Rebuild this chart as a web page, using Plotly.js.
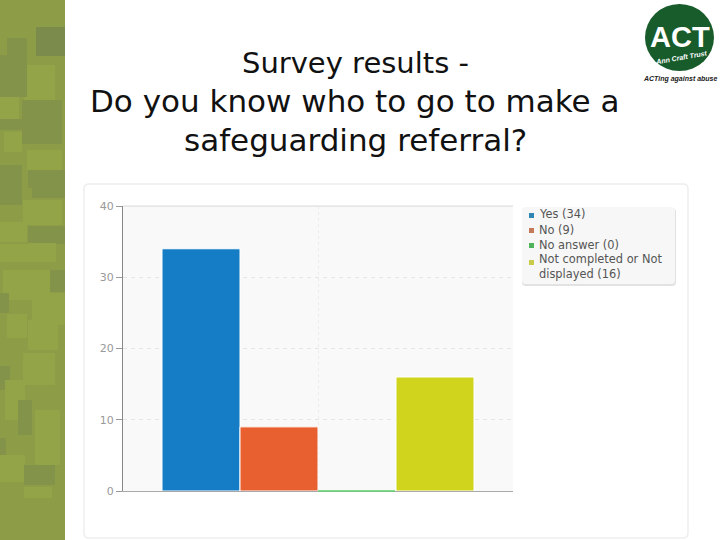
<!DOCTYPE html>
<html><head><meta charset="utf-8">
<script src="https://cdn.plot.ly/plotly-3.0.1.min.js"></script>
<style>html,body{margin:0;padding:0;background:#fff}</style></head>
<body><div id="chart" style="width:720px;height:540px"></div>
<script>
const categories = ["Yes","No","No answer","Not completed or Not<br>displayed"];
const counts = [34,9,0,16];
const barColors = ["#147dc6","#e85f30","#5fcf6a","#d0d41c"];
const legendMarkers = ["#2f86b5","#c47a5a","#4eb35a","#c9cc4a"];
const yTicks = [0,10,20,30,40];
const titleLines = ["Survey results -","Do you know who to go to make a","safeguarding referral?"];
const W=720,H=540;
const px=x=>x/W, py=y=>1-y/H;
const PL=123,PR=513,PT=206,PB=491;
function rect(x0,y0,x1,y1,fill){return {type:'rect',xref:'paper',yref:'paper',x0:px(x0),x1:px(x1),y0:py(y1),y1:py(y0),fillcolor:fill,line:{width:0},layer:'below'};}
function rounded(x0,y0,x1,y1,r,fill,stroke,sw){
  const P=(x,y)=>px(x)+','+py(y);
  const path='M'+P(x0+r,y0)+' L'+P(x1-r,y0)+' Q'+P(x1,y0)+' '+P(x1,y0+r)+' L'+P(x1,y1-r)+' Q'+P(x1,y1)+' '+P(x1-r,y1)+' L'+P(x0+r,y1)+' Q'+P(x0,y1)+' '+P(x0,y1-r)+' L'+P(x0,y0+r)+' Q'+P(x0,y0)+' '+P(x0+r,y0)+' Z';
  return {type:'path',xref:'paper',yref:'paper',path,fillcolor:fill,line:{color:stroke,width:sw},layer:'below'};
}
const base='#8d9c46', dark='#84934a', darker='#7b8b4b', light='#93a347';
const tiles=[
 [0,0,65,540,base],
 [36,27,65,56,darker],[24,65,55,100,light],[0,55,27,97,dark],[7,38,27,72,dark],
 [0,97,19,119,light],[22,100,62,144,dark],[0,119,25,130,dark],[4,132,22,152,light],
 [27,150,62,170,light],[28,170,65,188,dark],[32,188,65,198,dark],
 [23,200,62,225,light],[0,165,22,205,dark],[0,222,27,242,light],
 [28,226,65,244,dark],[28,243,56,262,light],[0,244,28,262,light],
 [3,270,50,300,light],[50,270,65,292,dark],[0,293,9,313,dark],[7,314,27,338,light],[32,293,65,325,light],
 [28,320,58,350,light],[23,353,55,385,light],[0,366,10,390,dark],[5,380,25,420,light],
 [18,400,32,435,dark],[35,410,60,465,light],[0,438,6,462,dark],[0,455,25,482,light],
 [24,465,55,485,dark],[24,487,52,498,light]
];
const shapes = tiles.map(t=>rect(t[0],t[1],t[2],t[3],t[4]));
shapes.push(rounded(84,184,688,538,5,'#ffffff','#eeeeee',1.5));
shapes.push(rect(PL,PT,PR,PB,'#f9f9f9'));
shapes.push(rounded(522,208,676,286,4,'#e2e2e2','#e2e2e2',0));
shapes.push(rounded(522,207,675,284,4,'#f7f7f7','#f7f7f7',0));
shapes.push({type:'line',xref:'paper',yref:'paper',x0:px(PL),x1:px(PR),y0:py(PT),y1:py(PT),line:{color:'#d8d8d8',width:1}});
shapes.push({type:'line',xref:'paper',yref:'paper',x0:px(318),x1:px(395),y0:py(491),y1:py(491),line:{color:barColors[2],width:1.5}});
const markerY=[215,230,245,262], textY=[214,230,245,266];
markerY.forEach((y,i)=>shapes.push(rect(529,y-2,534,y+3,legendMarkers[i])));
shapes.push({type:'circle',xref:'paper',yref:'paper',x0:px(645),x1:px(714),y0:py(71),y1:py(4),fillcolor:'#185c2c',line:{color:'#185c2c',width:0}});
const legendAnn=categories.map((c,i)=>({xref:'paper',yref:'paper',x:px(537),y:py(textY[i]),xanchor:'left',yanchor:'middle',align:'left',showarrow:false,text:c+' ('+counts[i]+')',font:{family:'DejaVu Sans',size:11.4,color:'#555'}}));
const titleY=[63,101,140], titleSize=[29,31,31];
const titleAnn=titleLines.map((t,i)=>({xref:'paper',yref:'paper',x:px(355),y:py(titleY[i]),xanchor:'center',yanchor:'middle',text:t,showarrow:false,font:{family:'DejaVu Sans',size:titleSize[i],color:'#111'}}));
const annotations=[
 ...legendAnn,...titleAnn,
 {xref:'paper',yref:'paper',x:px(680),y:py(37),xanchor:'center',yanchor:'middle',text:'<b>ACT</b>',showarrow:false,font:{family:'Liberation Sans',size:29,color:'#fff'}},
 {xref:'paper',yref:'paper',x:px(681),y:py(58),xanchor:'center',yanchor:'middle',text:'<b><i>Ann Craft Trust</i></b>',textangle:-10,showarrow:false,font:{family:'Liberation Sans',size:7,color:'#fff'}},
 {xref:'paper',yref:'paper',x:px(680),y:py(79),xanchor:'center',yanchor:'middle',text:'<b><i>ACTing against abuse</i></b>',showarrow:false,font:{family:'Liberation Sans',size:7,color:'#222'}}
];
const traces = categories.map((c,i)=>({type:'bar',x:['Survey'],y:[counts[i]],name:c,marker:{color:barColors[i],line:{color:'#ffffff',width:1}},hoverinfo:'y+name'}));
Plotly.newPlot('chart',traces,{
 width:W,height:H,margin:{l:0,r:0,t:0,b:0},
 paper_bgcolor:'#ffffff',plot_bgcolor:'rgba(0,0,0,0)',
 showlegend:false,barmode:'group',bargap:0.2,bargroupgap:0,
 xaxis:{domain:[px(PL),px(PR)],showticklabels:false,ticks:'',showgrid:true,gridcolor:'#ececec',griddash:'dot',showline:true,linecolor:'#aaaaaa',linewidth:1,zeroline:false,fixedrange:true},
 yaxis:{domain:[py(PB),py(PT)],range:[0,40],tickvals:yTicks,ticktext:yTicks.map(String),ticks:'outside',ticklen:6,tickcolor:'#999',tickfont:{family:'DejaVu Sans',size:11,color:'#999'},showgrid:true,gridcolor:'#e6e6e6',griddash:'4px,4px',showline:true,linecolor:'#888',linewidth:1,zeroline:false,fixedrange:true},
 shapes,annotations
},{displayModeBar:false,staticPlot:true});
</script></body></html>
